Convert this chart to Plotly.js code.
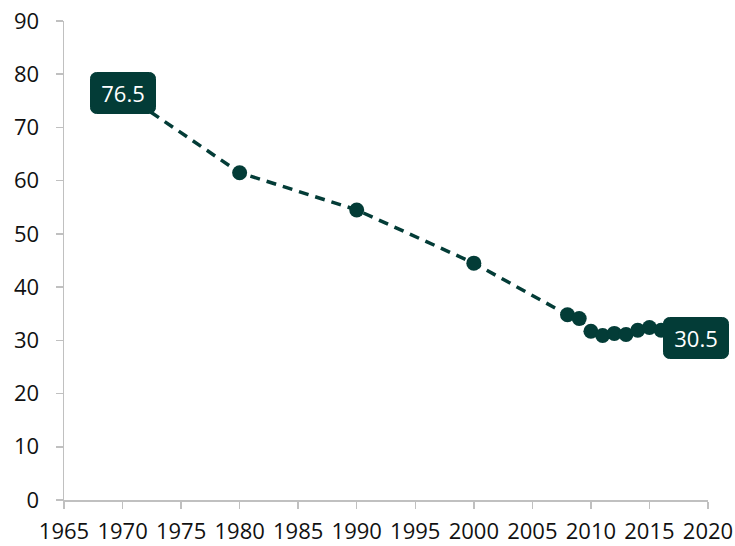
<!DOCTYPE html>
<html>
<head>
<meta charset="utf-8">
<script src="https://cdn.plot.ly/plotly-3.0.1.min.js"></script>
<style>html,body{margin:0;padding:0;background:#fff;}#chart{width:735px;height:546px;}</style>
</head>
<body>
<div id="chart"></div>
<script>
const years = [1970, 1980, 1990, 2000, 2008, 2009, 2010, 2011, 2012, 2013, 2014, 2015, 2016, 2017, 2018, 2019];
const values = [76.5, 61.5, 54.5, 44.5, 34.8, 34.1, 31.7, 30.9, 31.3, 31.1, 31.9, 32.4, 31.9, 31.5, 31.0, 30.5];
const xTicks = [1965, 1970, 1975, 1980, 1985, 1990, 1995, 2000, 2005, 2010, 2015, 2020];
const yTicks = [0, 10, 20, 30, 40, 50, 60, 70, 80, 90];
const labelIdx = [0, values.length - 1];

const dark = '#033c37';
const grey = '#c0c0c0';
const tickFont = {family: 'Open Sans, Noto Sans, sans-serif', size: 22, color: '#111'};

const trace = {
  x: years, y: values, type: 'scatter', mode: 'lines+markers',
  line: {color: dark, width: 3.5, dash: '10px,7px'},
  marker: {color: dark, size: 15},
  hoverinfo: 'x+y'
};

const annotations = labelIdx.map(i => ({
  x: years[i], y: values[i], xref: 'x', yref: 'y',
  text: values[i].toFixed(1), showarrow: false,
  xanchor: 'center', yanchor: 'middle',
  font: {family: 'Open Sans, Noto Sans, sans-serif', size: 22, color: '#fff'},
  bgcolor: dark, bordercolor: dark, borderwidth: 1,
  width: 56, height: 32, borderpad: 4
}));

const layout = {
  width: 735, height: 546,
  margin: {l: 64, r: 27, t: 21, b: 46},
  paper_bgcolor: '#fff', plot_bgcolor: '#fff',
  showlegend: false,
  xaxis: {
    range: [1965, 2020], tickvals: xTicks, ticktext: xTicks.map(String),
    showgrid: false, zeroline: false, showline: true, linecolor: grey, linewidth: 1.5,
    ticks: 'outside', ticklen: 7, tickwidth: 1.5, tickcolor: grey,
    tickfont: tickFont, ticklabelstandoff: 4, fixedrange: true
  },
  yaxis: {
    range: [0, 90], tickvals: yTicks, ticktext: yTicks.map(String),
    showgrid: false, zeroline: false, showline: true, linecolor: grey, linewidth: 1.5,
    ticks: 'outside', ticklen: 7, tickwidth: 1.5, tickcolor: grey,
    tickfont: tickFont, ticklabelstandoff: 12, fixedrange: true
  },
  xaxis2: {
    overlaying: 'x', anchor: 'y', range: [1965, 2020], tickvals: xTicks,
    showticklabels: false, showgrid: false, zeroline: false, showline: false,
    ticks: 'inside', ticklen: 7, tickwidth: 1.5, tickcolor: grey, fixedrange: true
  },
  yaxis2: {
    overlaying: 'y', anchor: 'x', range: [0, 90], tickvals: yTicks,
    showticklabels: false, showgrid: false, zeroline: false, showline: false,
    ticks: 'inside', ticklen: 7, tickwidth: 1.5, tickcolor: grey, fixedrange: true
  },
  annotations: annotations
};

Plotly.newPlot('chart', [trace], layout, {displayModeBar: false, staticPlot: true}).then(() => {
  document.querySelectorAll('.annotation rect.bg').forEach(r => {
    r.setAttribute('rx', 6); r.setAttribute('ry', 6);
  });
});
</script>
</body>
</html>
